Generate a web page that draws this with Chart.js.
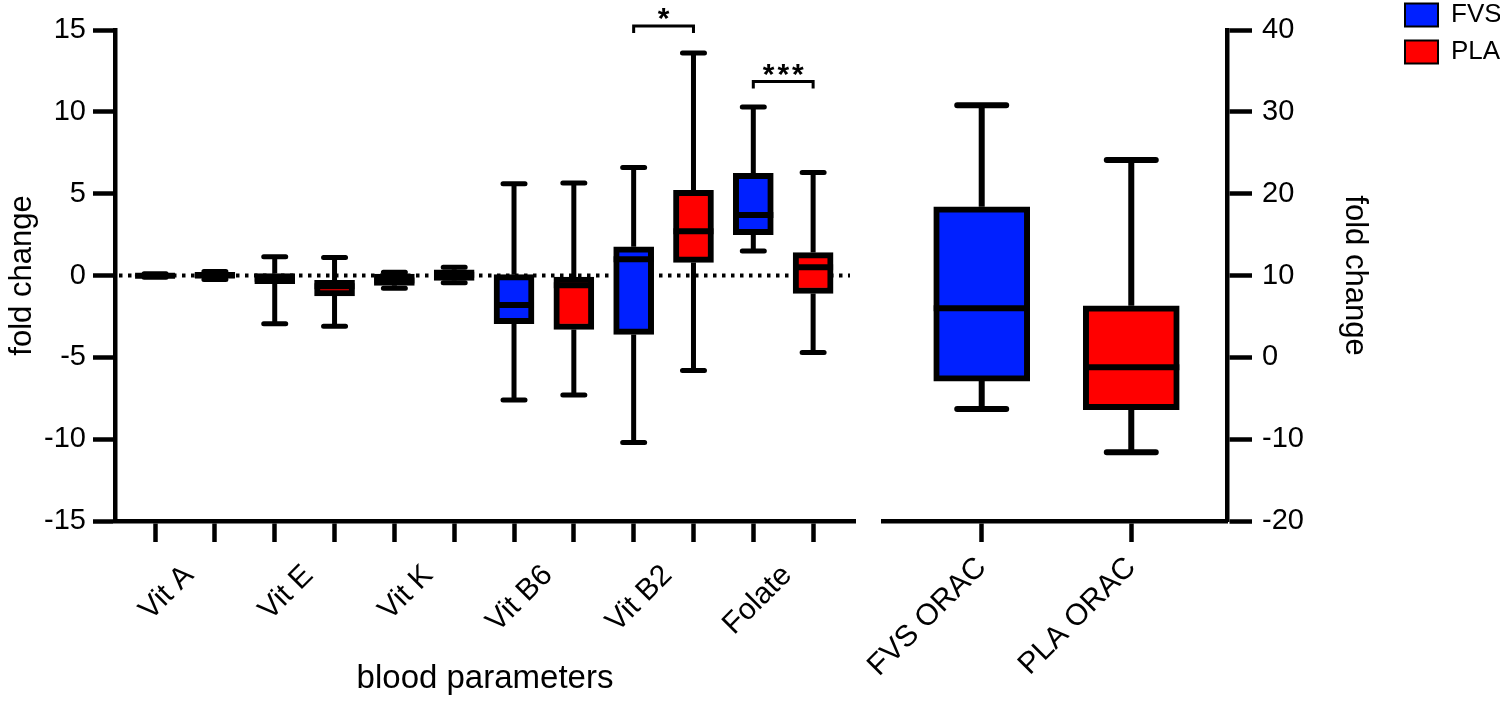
<!DOCTYPE html>
<html>
<head>
<meta charset="utf-8">
<script src="https://cdn.jsdelivr.net/npm/chart.js@4.4.1/dist/chart.umd.min.js"></script>
<style>
  html, body { margin: 0; padding: 0; background: #fff; }
  #wrap { position: relative; width: 1500px; height: 701px; overflow: hidden; }
  canvas { position: absolute; top: 0; }
  #left { left: 0; }
  #right { left: 800px; }
</style>
</head>
<body>
<div id="wrap">
  <canvas id="left" width="870" height="701"></canvas>
  <canvas id="right" width="700" height="701"></canvas>
</div>
<script>
// blood parameters, each has a FVS box then a PLA box
const groups = ['Vit A', 'Vit E', 'Vit K', 'Vit B6', 'Vit B2', 'Folate'];

const fvsMin = [-0.1, -2.95, -0.78, -7.6, -10.2, 1.5];
const fvsQ1  = [-0.06, -0.5, -0.6, -2.95, -3.6, 2.5];
const fvsMed = [-0.02, -0.2, -0.3, -1.8, 1.0, 3.7];
const fvsQ3  = [0.05, 0.12, 0.08, 0.05, 1.75, 6.25];
const fvsMax = [0.1, 1.15, 0.2, 5.6, 6.6, 10.3];

const plaMin = [-0.25, -3.1, -0.45, -7.3, -5.8, -4.7];
const plaQ1  = [-0.15, -1.25, -0.3, -3.3, 0.8, -1.1];
const plaMed = [0.0, -0.65, 0.05, -0.6, 2.7, 0.5];
const plaQ3  = [0.2, -0.3, 0.35, -0.1, 5.2, 1.4];
const plaMax = [0.25, 1.1, 0.5, 5.65, 13.6, 6.3];

// significance brackets (box index from / to, height, text)
const sigFrom = [8, 10];
const sigTo   = [9, 11];
const sigAt   = [15.25, 11.85];
const sigText = ['*', '***'];

// ORAC panel (right axis)
const oracLabels = ['FVS ORAC', 'PLA ORAC'];
const oracMin = [-6.3, -11.6];
const oracQ1  = [-2.9, -6.4];
const oracMed = [6.0, -1.2];
const oracQ3  = [18.4, 6.3];
const oracMax = [30.8, 24.1];

const leftTicks = [-15, -10, -5, 0, 5, 10, 15];
const rightTicks = [-20, -10, 0, 10, 20, 30, 40];

const BLUE = '#0020ff';
const RED = '#ff0000';

Chart.defaults.font.family = "'Liberation Sans', Arial, Helvetica, sans-serif";
Chart.defaults.color = '#000';

// whiskers, caps, medians, zero line and brackets
const boxPlugin = {
  id: 'boxes',
  beforeDatasetsDraw(chart, args, opts) {
    if (!opts.zeroLine) return;
    const ctx = chart.ctx, area = chart.chartArea;
    const py = chart.scales.y.getPixelForValue(0);
    ctx.save();
    ctx.setLineDash([3.5, 5.5]);
    ctx.lineWidth = 4;
    ctx.strokeStyle = '#000';
    ctx.beginPath();
    ctx.moveTo(area.left + 4, py);
    ctx.lineTo(area.right - 5, py);
    ctx.stroke();
    ctx.restore();
  },
  afterDatasetsDraw(chart, args, opts) {
    const ctx = chart.ctx;
    const y = chart.scales.y, x = chart.scales.x;
    chart.data.datasets.forEach((ds, di) => {
      chart.getDatasetMeta(di).data.forEach((bar, i) => {
        const cx = bar.x, half = bar.width / 2;
        const pTop = y.getPixelForValue(ds.data[i].y[1]);
        const pBot = y.getPixelForValue(ds.data[i].y[0]);
        const pMax = y.getPixelForValue(ds.hi[i]);
        const pMin = y.getPixelForValue(ds.lo[i]);
        const pMed = y.getPixelForValue(ds.mid[i]);
        ctx.save();
        ctx.strokeStyle = '#000';
        ctx.lineWidth = opts.whisker;
        ctx.beginPath();
        ctx.moveTo(cx, pTop); ctx.lineTo(cx, pMax);
        ctx.moveTo(cx, pBot); ctx.lineTo(cx, pMin);
        ctx.stroke();
        ctx.lineCap = 'round';
        ctx.beginPath();
        ctx.moveTo(cx - opts.cap / 2, pMax); ctx.lineTo(cx + opts.cap / 2, pMax);
        ctx.moveTo(cx - opts.cap / 2, pMin); ctx.lineTo(cx + opts.cap / 2, pMin);
        ctx.stroke();
        ctx.lineCap = 'butt';
        ctx.lineWidth = opts.median;
        ctx.beginPath();
        ctx.moveTo(cx - half, pMed); ctx.lineTo(cx + half, pMed);
        ctx.stroke();
        ctx.restore();
      });
    });
    if (!opts.sig) return;
    ctx.save();
    ctx.strokeStyle = '#000';
    ctx.fillStyle = '#000';
    ctx.lineWidth = 3;
    ctx.font = "bold 30px 'Liberation Sans', Arial, sans-serif";
    ctx.letterSpacing = '3px';
    ctx.textAlign = 'center';
    ctx.textBaseline = 'alphabetic';
    sigFrom.forEach((f, k) => {
      const x1 = x.getPixelForValue(f), x2 = x.getPixelForValue(sigTo[k]);
      const by = y.getPixelForValue(sigAt[k]);
      ctx.beginPath();
      ctx.moveTo(x1, by + 7); ctx.lineTo(x1, by); ctx.lineTo(x2, by); ctx.lineTo(x2, by + 7);
      ctx.stroke();
      ctx.fillText(sigText[k], (x1 + x2) / 2 + 1.5, by + 2);
    });
    ctx.restore();
  }
};

// ---------- left panel ----------
const fvsPos = groups.map((g, i) => i * 2);
const plaPos = groups.map((g, i) => i * 2 + 1);
const groupPos = groups.map((g, i) => i * 2 + 0.5);
const allPos = fvsPos.concat(plaPos).sort((a, b) => a - b);

new Chart(document.getElementById('left'), {
  type: 'bar',
  data: {
    datasets: [
      {
        label: 'FVS',
        data: fvsPos.map((p, i) => ({ x: p, y: [fvsQ1[i], fvsQ3[i]] })),
        lo: fvsMin, mid: fvsMed, hi: fvsMax,
        backgroundColor: BLUE, borderColor: '#000', borderWidth: 6,
        borderSkipped: false, barThickness: 40, grouped: false
      },
      {
        label: 'PLA',
        data: plaPos.map((p, i) => ({ x: p, y: [plaQ1[i], plaQ3[i]] })),
        lo: plaMin, mid: plaMed, hi: plaMax,
        backgroundColor: RED, borderColor: '#000', borderWidth: 6,
        borderSkipped: false, barThickness: 40, grouped: false
      }
    ]
  },
  options: {
    responsive: false,
    animation: false,
    layout: { padding: { top: 30, right: 15, left: 0, bottom: 0 } },
    plugins: {
      legend: { display: false },
      tooltip: { enabled: false },
      boxes: { cap: 22, whisker: 5, median: 6, zeroLine: true, sig: true }
    },
    scales: {
      x: {
        type: 'linear', position: 'bottom', weight: 0, offset: false,
        min: -0.67, max: 11.7,
        border: { color: '#000', width: 4.5 },
        grid: { offset: false, drawOnChartArea: false, tickLength: 21, tickWidth: 4.5, tickColor: '#000' },
        ticks: { display: false },
        afterBuildTicks: s => { s.ticks = allPos.map(v => ({ value: v })); },
        afterFit: s => { s.height = 21; }
      },
      x2: {
        type: 'linear', position: 'bottom', weight: 1, offset: false,
        min: -0.67, max: 11.7,
        border: { display: false },
        grid: { display: false, offset: false },
        ticks: {
          autoSkip: false, minRotation: 45, maxRotation: 45, padding: 8, labelOffset: 4,
          font: { size: 30 }, color: '#000',
          callback: (v, i) => groups[i]
        },
        afterBuildTicks: s => { s.ticks = groupPos.map(v => ({ value: v })); },
        title: { display: true, text: 'blood parameters', font: { size: 33 }, color: '#000', padding: { top: 0, bottom: 2 } },
        afterFit: s => { s.height = 159; }
      },
      y: {
        min: -15, max: 15,
        border: { color: '#000', width: 4.5 },
        grid: { drawOnChartArea: false, tickLength: 22, tickWidth: 4.5, tickColor: '#000' },
        ticks: { font: { size: 29 }, color: '#000', padding: 7 },
        afterBuildTicks: s => { s.ticks = leftTicks.map(v => ({ value: v })); },
        title: { display: true, text: 'fold change', font: { size: 31 }, color: '#000', padding: { top: 4, bottom: 0 } },
        afterFit: s => { s.width = 115; }
      }
    }
  },
  plugins: [boxPlugin]
});

// ---------- right panel ----------
new Chart(document.getElementById('right'), {
  type: 'bar',
  data: {
    datasets: [
      {
        label: 'FVS',
        data: [{ x: 0, y: [oracQ1[0], oracQ3[0]] }],
        lo: [oracMin[0]], mid: [oracMed[0]], hi: [oracMax[0]],
        backgroundColor: BLUE, borderColor: '#000', borderWidth: 6,
        borderSkipped: false, barThickness: 96, grouped: false
      },
      {
        label: 'PLA',
        data: [{ x: 1, y: [oracQ1[1], oracQ3[1]] }],
        lo: [oracMin[1]], mid: [oracMed[1]], hi: [oracMax[1]],
        backgroundColor: RED, borderColor: '#000', borderWidth: 6,
        borderSkipped: false, barThickness: 96, grouped: false
      }
    ]
  },
  options: {
    responsive: false,
    animation: false,
    layout: { padding: { top: -9, right: 0, left: 83, bottom: 0 } },
    plugins: {
      tooltip: { enabled: false },
      boxes: { cap: 49, whisker: 6, median: 6, zeroLine: false, sig: false },
      legend: {
        position: 'right', align: 'start', maxWidth: 106,
        labels: {
          boxWidth: 33, boxHeight: 23, padding: 11,
          font: { size: 26 }, color: '#000',
          generateLabels: c => Chart.defaults.plugins.legend.labels.generateLabels(c)
            .map(l => Object.assign(l, { lineWidth: 2, strokeStyle: '#000' }))
        }
      }
    },
    scales: {
      x: {
        type: 'linear', position: 'bottom', offset: false,
        min: -0.66, max: 1.64,
        border: { color: '#000', width: 4.5 },
        grid: { offset: false, drawOnChartArea: false, tickLength: 21, tickWidth: 4.5, tickColor: '#000' },
        ticks: {
          autoSkip: false, minRotation: 45, maxRotation: 45, padding: 8,
          font: { size: 30 }, color: '#000',
          callback: (v, i) => oracLabels[i]
        },
        afterBuildTicks: s => { s.ticks = [0, 1].map(v => ({ value: v })); },
        afterFit: s => { s.height = 180; }
      },
      y: {
        position: 'right',
        min: -20, max: 40,
        border: { color: '#000', width: 4.5 },
        grid: { drawOnChartArea: false, tickLength: 25, tickWidth: 4.5, tickColor: '#000' },
        ticks: { font: { size: 29 }, color: '#000', padding: 10 },
        afterBuildTicks: s => { s.ticks = rightTicks.map(v => ({ value: v })); },
        title: { display: true, text: 'fold change', font: { size: 31 }, color: '#000', padding: { top: 21, bottom: 0 } },
        afterFit: s => { s.width = 167; s.paddingTop = 30; }
      }
    }
  },
  plugins: [boxPlugin]
});
</script>
</body>
</html>
